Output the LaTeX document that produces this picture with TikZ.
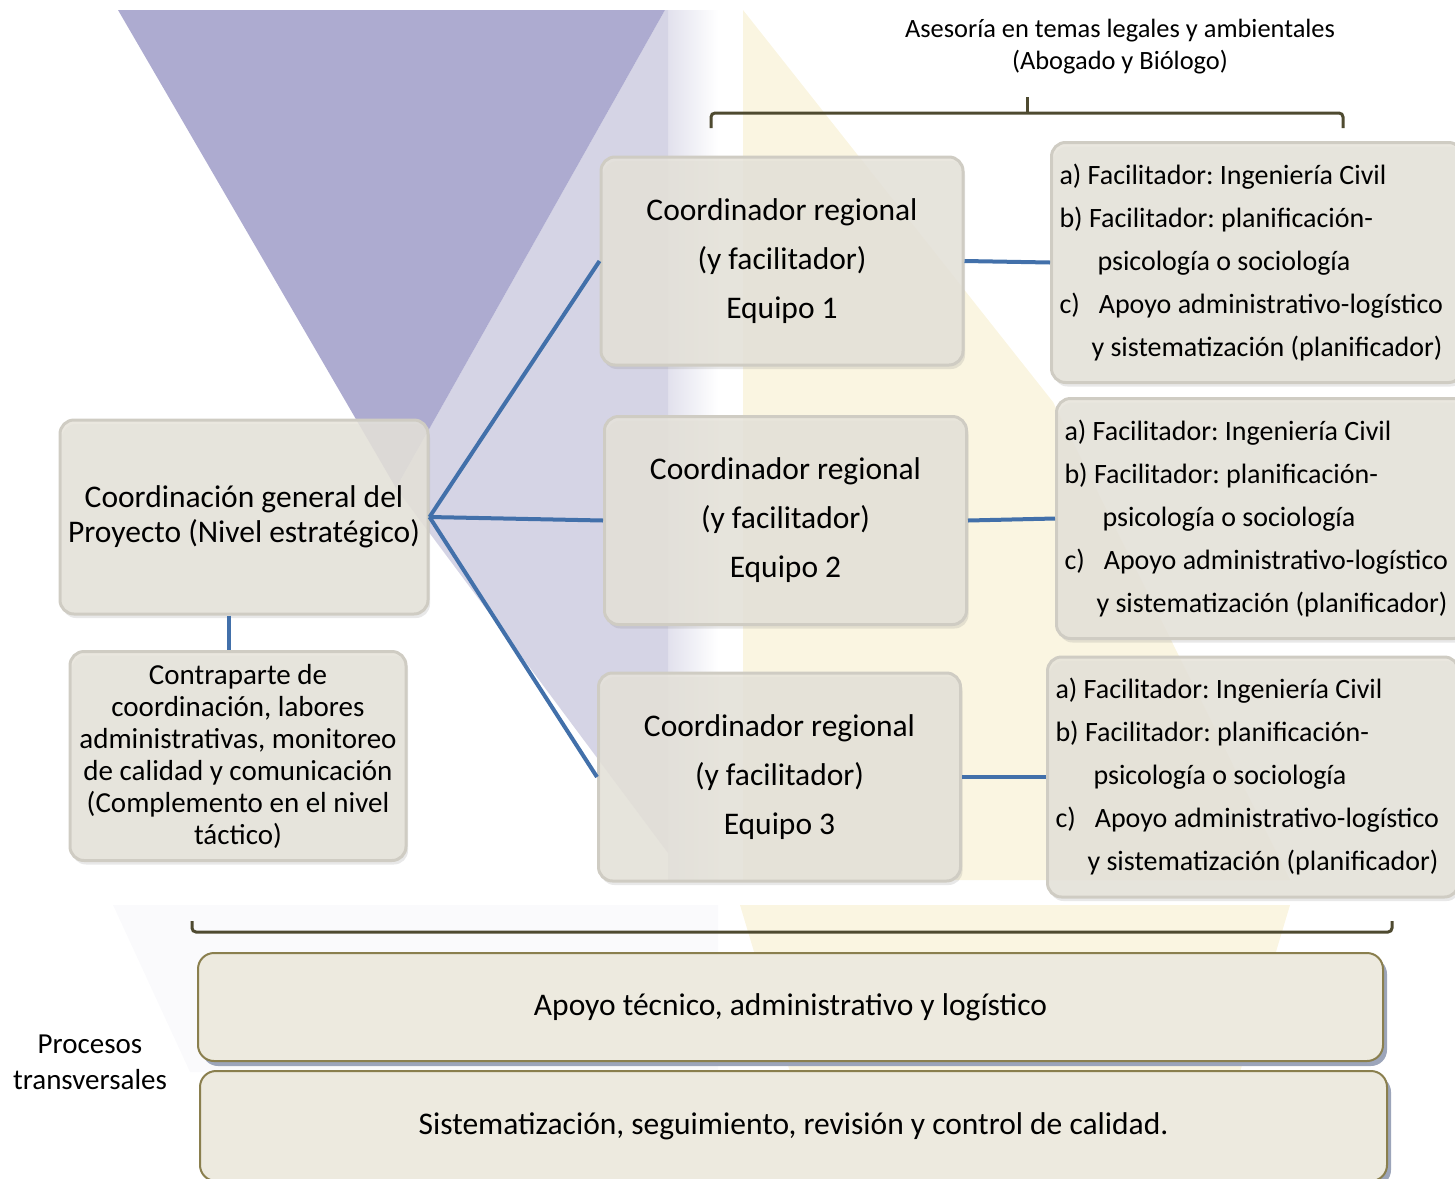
\documentclass[tikz,border=0pt]{standalone}
\usepackage{fontspec}
\setmainfont{Carlito}
\usetikzlibrary{positioning, shadows}

\definecolor{pyramid}{HTML}{ADABD0}
\definecolor{pyramidlight}{HTML}{D5D4E5}
\definecolor{sand}{HTML}{FAF5E1}
\definecolor{boxfill}{HTML}{E6E3DA}
\definecolor{boxedge}{HTML}{CFCCC3}
\definecolor{linkblue}{HTML}{4270AA}
\definecolor{bracecol}{HTML}{4E4A30}
\definecolor{bandfill}{HTML}{EDEADF}
\definecolor{bandedge}{HTML}{8A7F4E}
\definecolor{bandshadow}{HTML}{9CA5BA}

\tikzset{
  rolebox/.style={draw=boxedge, line width=3pt, fill=boxfill, fill opacity=0.86,
    text opacity=1, rounded corners=14pt, align=center,
    drop shadow={opacity=0.18, shadow xshift=2pt, shadow yshift=-4pt}},
  teambox/.style={rolebox, minimum width=362pt, minimum height=208pt,
    font=\fontsize{31.5}{49}\selectfont},
  helperbox/.style={rolebox, anchor=west, text width=395pt, inner xsep=8pt,
    align=flush left, minimum height=240pt,
    font=\fontsize{28}{43}\selectfont\frenchspacing},
  band/.style={draw=bandedge, line width=2pt, fill=bandfill, rounded corners=16pt,
    font=\fontsize{31.5}{38}\selectfont,
    drop shadow={fill=bandshadow, opacity=1, shadow xshift=4pt, shadow yshift=-5pt}},
  link/.style={draw=linkblue, line width=4pt},
  bracket/.style={draw=bracecol, line width=3pt, rounded corners=4pt}
}

\newcommand{\helpers}{a) Facilitador: Ingeniería Civil\\
  b) Facilitador: planificación-\\
  \hspace*{38pt}psicología o sociología\\
  c)\hspace{19pt}Apoyo administrativo-logístico\\
  \hspace*{32pt}y sistematización (planificador)}

\begin{document}
\begin{tikzpicture}[x=1pt, y=-1pt]
\useasboundingbox (0,0) rectangle (1455,1178);

% fondo
\shade[left color=pyramidlight!70, right color=white] (668,10) rectangle (718,880);
\fill[pyramidlight] (665,10) -- (668,10) -- (668,853) -- (396,488) -- cycle;
\fill[pyramid] (118,10) -- (665,10) -- (396,488) -- cycle;
\fill[sand] (743,10) -- (1053,402) -- (1290,880) -- (743,880) -- cycle;
\fill[sand] (740,905) -- (1290,905) -- (1240,1072) -- (790,1072) -- cycle;
\fill[pyramidlight!12] (113,905) -- (718,905) -- (718,1072) -- (190,1072) -- cycle;

\node[rolebox, minimum width=368pt, minimum height=194pt,
      font=\fontsize{31.5}{35}\selectfont] (gen) at (244,517)
  {Coordinación general del\\Proyecto (Nivel estratégico)};
\node[rolebox, minimum width=336pt, minimum height=209pt,
      font=\fontsize{29}{32}\selectfont] (contra) at (238,756)
  {Contraparte de\\coordinación, labores\\administrativas, monitoreo\\de calidad y comunicación\\(Complemento en el nivel\\táctico)};

\node[teambox] (eq1) at (782,261) {Coordinador regional\\(y facilitador)\\Equipo 1};
\node[teambox] (eq2) at (785.5,520.5) {Coordinador regional\\(y facilitador)\\Equipo 2};
\node[teambox] (eq3) at (779.5,777) {Coordinador regional\\(y facilitador)\\Equipo 3};

\node[helperbox] (fac1) at (1050,262.5) {\helpers};
\node[helperbox] (fac2) at (1055,518.5) {\helpers};
\node[helperbox] (fac3) at (1046,777) {\helpers};

\node[font=\fontsize{26.4}{32}\selectfont, align=center] (legal) at (1120,47)
  {Asesoría en temas legales y ambientales\\(Abogado y Biólogo)};

\coordinate (legalL) at (711,128);
\coordinate (legalR) at (1343,128);
\coordinate (legalTip) at (1027,97);
\draw[bracket] (legalL) -- (711,113) -- (1343,113) -- (legalR);
\draw[bracket, rounded corners=0pt] (1027,113) -- (legalTip);

\coordinate (crossL) at (192,921);
\coordinate (crossR) at (1392,921);
\draw[bracket] (crossL) -- (192,932) -- (1392,932) -- (crossR);

\node[band, minimum width=1185pt, minimum height=108pt] (apoyo) at (790.5,1007)
  {Apoyo técnico, administrativo y logístico};
\node[band, minimum width=1187pt, minimum height=110pt] (calidad) at (793.5,1126)
  {Sistematización, seguimiento, revisión y control de calidad.};

\node[font=\fontsize{29}{36}\selectfont, align=center] (procesos) at (90,1062)
  {Procesos\\transversales};

\draw[link] (gen.east) -- (eq1.west);
\draw[link] (gen.east) -- (eq2.west);
\draw[link] (gen.east) -- (eq3.west);
\draw[link] (eq1.east) -- (fac1.west);
\draw[link] (eq2.east) -- (fac2.west);
\draw[link] (eq3.east) -- (fac3.west);
\draw[link] ([xshift=-15pt]gen.south) -- ([xshift=-15pt]gen.south |- contra.north);
\end{tikzpicture}
\end{document}
